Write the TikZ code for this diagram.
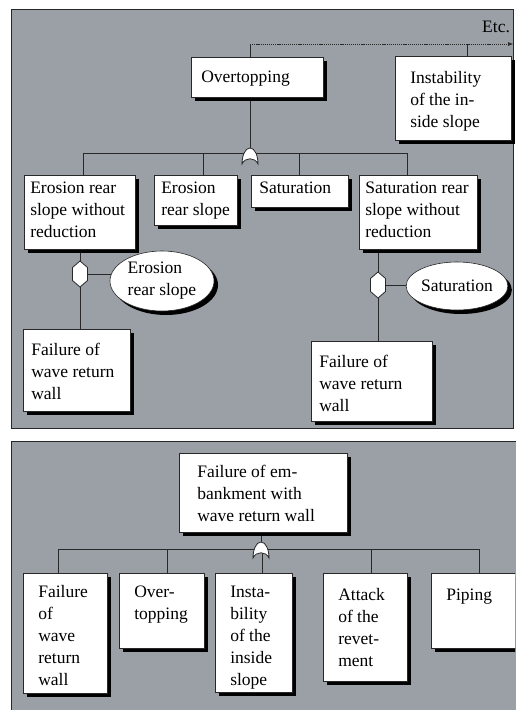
\documentclass[tikz,border=0pt]{standalone}
\usepackage{fontspec}
\setmainfont{Liberation Serif}
\usetikzlibrary{shapes.geometric,shadows,arrows.meta}
\pgfdeclarelayer{panel}
\pgfdeclarelayer{conn}
\pgfsetlayers{panel,conn,main}
\definecolor{panelgray}{RGB}{154,160,166}
\definecolor{edgec}{RGB}{40,40,40}
\newcommand\bt[5]{\parbox[c][#2pt][t]{#1pt}{\raggedright\leftskip=#3pt\relax\vspace*{\dimexpr#4pt-15.4pt\relax}\strut#5}}
\newcommand\hexat[1]{\draw[gatestyle] ([shift={(0,-13)}]#1) -- ++(7.5,6.5) -- ++(0,13) -- ++(-7.5,6.5) -- ++(-7.5,-6.5) -- ++(0,-13) -- cycle;}
\newcommand\orgateat[1]{\draw[gatestyle] (#1) .. controls +(5,0) and +(0,-8) .. ++(8,16) .. controls +(-3,-7) and +(3,-7) .. ++(-16,0) .. controls +(0,-8) and +(-5,0) .. (#1) -- cycle;}
\tikzset{
  every node/.style={font=\fontsize{17.5}{22}\selectfont},
  box/.style={draw=edgec, line width=0.6pt, fill=white, inner sep=0pt, anchor=north west,
    general shadow={fill=black, shadow xshift=4pt, shadow yshift=-4pt}},
  ell/.style={ellipse, draw=edgec, line width=0.6pt, fill=white, inner sep=0pt, align=left,
    general shadow={fill=black, shadow xshift=4pt, shadow yshift=-4pt}},
  wire/.style={draw=edgec, line width=1pt},
  dotline/.style={draw=edgec, line width=0.5pt, dash pattern=on 1.2pt off 0.9pt, -{Latex[length=5pt,width=4pt]}},
  gatestyle/.style={draw=edgec, line width=0.8pt, fill=white}
}
\begin{document}
\begin{tikzpicture}[x=1pt,y=-1pt]
\useasboundingbox (0,0) rectangle (515,710);
\clip (0,0) rectangle (515,710);
\begin{pgfonlayer}{panel}
  \fill[white] (0,0) rectangle (515,710);
  \filldraw[fill=panelgray, draw=edgec, line width=0.7pt] (11,9) rectangle (513,428);
  \filldraw[fill=panelgray, draw=edgec, line width=0.7pt] (11,441) rectangle (530,730);
\end{pgfonlayer}

% ---------- top panel nodes
\node[box] (over) at (191,57) {\bt{132}{40}{10}{25}{Overtopping}};
\node[box] (inst) at (395,56) {\bt{116}{84}{15}{27}{Instability\\of the in-\\side slope}};
\node[anchor=base west, inner sep=0pt] (etc) at (482,32) {Etc.};
\node[box] (ersw) at (24,175) {\bt{111}{74}{6}{18}{Erosion rear\\slope without\\reduction}};
\node[box] (ers) at (154,175) {\bt{83}{50}{7}{18}{Erosion\\rear slope}};
\node[box] (sat) at (251,175) {\bt{97}{32}{8}{18}{Saturation}};
\node[box] (srsw) at (359,175) {\bt{118}{74}{6}{18}{Saturation rear\\slope without\\reduction}};
\node[box] (fl) at (23,329) {\bt{107}{82}{8}{26}{Failure of\\wave return\\wall}};
\node[box] (fr) at (311,341) {\bt{121}{80}{8}{26}{Failure of\\wave return\\wall}};
\node[ell, minimum width=104pt, minimum height=60pt] (ellL) at (162,281) {Erosion\\rear slope};
\node[ell, minimum width=101pt, minimum height=48pt] (ellR) at (457,286) {Saturation};

% ---------- bottom panel nodes
\node[box] (btop) at (179,453) {\bt{168}{79}{18}{24}{Failure of em-\\bankment with\\wave return wall}};
\node[box] (b1) at (23,573) {\bt{84}{120}{15}{24}{Failure\\of\\wave\\return\\wall}};
\node[box] (b2) at (119,573) {\bt{85}{75}{15}{24}{Over-\\topping}};
\node[box] (b3) at (215,573) {\bt{77}{119}{15}{24}{Insta-\\bility\\of the\\inside\\slope}};
\node[box] (b4) at (323,573) {\bt{84}{108}{15}{27}{Attack\\of the\\revet-\\ment}};
\node[box] (b5) at (431,573) {\bt{100}{75}{15}{27}{Piping}};

% ---------- coordinates
\coordinate (g1) at (250,148);
\coordinate (etcarrow) at (513,44);
\coordinate (i1) at (467,44);
\coordinate (d1) at (83,153);
\coordinate (d2) at (203,153);
\coordinate (d3) at (299,153);
\coordinate (d4) at (407,153);
\coordinate (hL) at (80,274);
\coordinate (hR) at (378,285);
\coordinate (g2) at (261,542);
\coordinate (e1) at (58,549);
\coordinate (e2) at (167,549);
\coordinate (e3) at (262,549);
\coordinate (e4) at (371,549);
\coordinate (e5) at (479,549);

\begin{pgfonlayer}{conn}
  % top panel
  \draw[wire] (over.north -| g1) -- (g1 |- etcarrow);
  \draw[wire] (inst.north -| i1) -- (i1);
  \draw[dotline] (g1 |- etcarrow) -- (etcarrow);
  \draw[wire] (over.south -| g1) -- (g1);
  \draw[wire] (d1) -- (d4);
  \draw[wire] (d1) -- (d1 |- ersw.north);
  \draw[wire] (d2) -- (d2 |- ers.north);
  \draw[wire] (d3) -- (d3 |- sat.north);
  \draw[wire] (d4) -- (d4 |- srsw.north);
  \draw[wire] (ersw.south -| hL) -- (fl.north -| hL);
  \draw[wire] (hL) -- (hL -| ellL.center);
  \draw[wire] (srsw.south -| hR) -- (fr.north -| hR);
  \draw[wire] (hR) -- (hR -| ellR.center);
  % bottom panel
  \draw[wire] (btop.south -| g2) -- (g2);
  \draw[wire] (e1) -- (e5);
  \draw[wire] (e1) -- (e1 |- b1.north);
  \draw[wire] (e2) -- (e2 |- b2.north);
  \draw[wire] (e3) -- (e3 |- b3.north);
  \draw[wire] (e4) -- (e4 |- b4.north);
  \draw[wire] (e5) -- (e5 |- b5.north);
\end{pgfonlayer}

% gates
\orgateat{g1}
\orgateat{g2}
\hexat{hL}
\hexat{hR}
\end{tikzpicture}
\end{document}
